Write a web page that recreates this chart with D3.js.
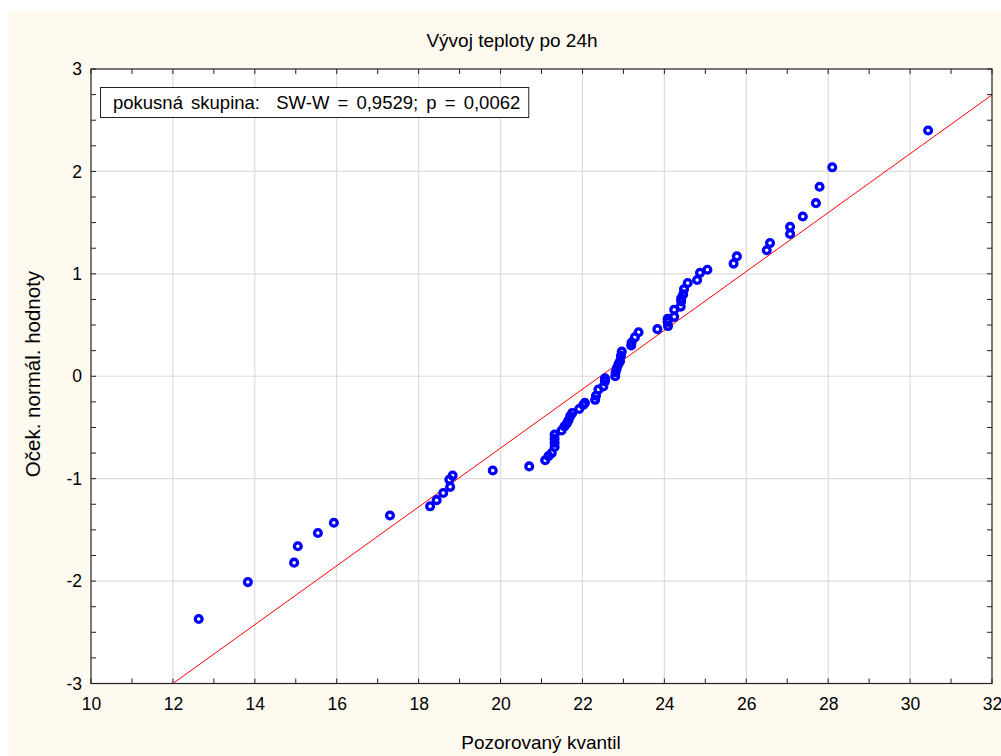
<!DOCTYPE html>
<html><head><meta charset="utf-8">
<script src="https://cdn.jsdelivr.net/npm/d3@7/dist/d3.min.js"></script>
<style>
body{margin:0;background:#fff;}
text{font-family:"Liberation Sans",Arial,sans-serif;fill:#000;}
</style>
</head><body>
<svg id="chart" width="1001" height="756"></svg>
<script>
// Observed quantiles (x) and expected normal values (y)
const observed = [12.63,13.83,14.96,15.05,15.54,15.93,17.30,18.28,18.44,18.60,
  18.77,18.75,18.83,19.81,20.70,21.09,21.17,21.25,21.32,21.32,
  21.32,21.32,21.49,21.56,21.62,21.66,21.70,21.75,21.92,22.02,
  22.06,22.31,22.33,22.39,22.51,22.55,22.55,22.80,22.81,22.84,
  22.88,22.92,22.94,22.96,23.19,23.20,23.28,23.37,23.83,24.09,
  24.08,24.08,24.24,24.24,24.40,24.41,24.41,24.46,24.48,24.57,
  24.80,24.87,25.05,25.69,25.77,26.50,26.58,27.07,27.07,27.38,
  27.70,27.79,28.10,30.44];
const expected = [-2.37,-2.01,-1.82,-1.66,-1.53,-1.43,-1.36,-1.27,-1.21,-1.14,
  -1.08,-1.01,-0.97,-0.92,-0.88,-0.82,-0.78,-0.75,-0.69,-0.65,
  -0.61,-0.57,-0.53,-0.49,-0.46,-0.43,-0.39,-0.36,-0.32,-0.28,
  -0.26,-0.23,-0.19,-0.13,-0.10,-0.05,-0.02,0.00,0.04,0.08,
  0.12,0.15,0.20,0.24,0.30,0.33,0.38,0.43,0.46,0.49,
  0.53,0.56,0.58,0.65,0.68,0.73,0.76,0.80,0.85,0.91,
  0.94,1.01,1.04,1.10,1.17,1.23,1.30,1.39,1.46,1.56,
  1.69,1.85,2.04,2.40];
const xTickValues = [10,12,14,16,18,20,22,24,26,28,30,32];
const yTickValues = [-3,-2,-1,0,1,2,3];
const fitMean = 22.44, fitSd = 3.48;
const titleText = "Vývoj teploty po 24h";
const xLabel = "Pozorovaný kvantil";
const yLabel = "Oček. normál. hodnoty";
const legendText = "pokusná skupina:  SW-W = 0,9529; p = 0,0062";

const svg = d3.select("#chart");
const W = 1001, H = 756;
const m = {left:91, right:992, top:69, bottom:683.5};

svg.append("rect").attr("x",0).attr("y",0).attr("width",W).attr("height",H).attr("fill","#ffffff");
svg.append("rect").attr("x",8).attr("y",11).attr("width",W-8).attr("height",H-11).attr("fill","#fffaf0");

const x = d3.scaleLinear().domain([10,32]).range([m.left,m.right]);
const y = d3.scaleLinear().domain([-3,3]).range([m.bottom,m.top]);

svg.append("defs").append("clipPath").attr("id","clip")
  .append("rect").attr("x",m.left).attr("y",m.top).attr("width",m.right-m.left).attr("height",m.bottom-m.top);

svg.append("rect").attr("x",m.left).attr("y",m.top).attr("width",m.right-m.left).attr("height",m.bottom-m.top).attr("fill","#ffffff");

// grid
const grid = svg.append("g").attr("stroke","#dcdcdc").attr("stroke-width",1.2);
xTickValues.slice(1,-1).forEach(v=>{
  grid.append("line").attr("x1",x(v)).attr("x2",x(v)).attr("y1",m.top).attr("y2",m.bottom);
});
yTickValues.slice(1,-1).forEach(v=>{
  grid.append("line").attr("x1",m.left).attr("x2",m.right).attr("y1",y(v)).attr("y2",y(v));
});

// axes
const minorX = d3.range(10,32.001,1);
const minorY = d3.range(-3,3.001,0.25);
const tickLen = 5;
const fmt = d => String(d);
const axB = svg.append("g").attr("transform",`translate(0,${m.bottom})`)
  .call(d3.axisBottom(x).tickValues(xTickValues).tickSize(0).tickPadding(14).tickFormat(fmt));
axB.select(".domain").remove();
axB.selectAll("text").attr("font-size",17.5).attr("font-family","Liberation Sans, Arial, sans-serif").attr("fill","#000");
const axL = svg.append("g").attr("transform",`translate(${m.left},0)`)
  .call(d3.axisLeft(y).tickValues(yTickValues).tickSize(0).tickPadding(9).tickFormat(fmt));
axL.select(".domain").remove();
axL.selectAll("text").attr("font-size",17.5).attr("font-family","Liberation Sans, Arial, sans-serif").attr("fill","#000");

const ticks = svg.append("g").attr("stroke","#222").attr("stroke-width",1);
minorX.forEach(v=>{
  ticks.append("line").attr("x1",x(v)).attr("x2",x(v)).attr("y1",m.bottom).attr("y2",m.bottom-tickLen);
  ticks.append("line").attr("x1",x(v)).attr("x2",x(v)).attr("y1",m.top).attr("y2",m.top+tickLen);
});
minorY.forEach(v=>{
  ticks.append("line").attr("x1",m.left).attr("x2",m.left+tickLen).attr("y1",y(v)).attr("y2",y(v));
  ticks.append("line").attr("x1",m.right).attr("x2",m.right-tickLen).attr("y1",y(v)).attr("y2",y(v));
});

// fitted line
const xs = x.domain();
svg.append("line").attr("clip-path","url(#clip)")
  .attr("x1",x(xs[0])).attr("y1",y((xs[0]-fitMean)/fitSd))
  .attr("x2",x(xs[1])).attr("y2",y((xs[1]-fitMean)/fitSd))
  .attr("stroke","#ff0000").attr("stroke-width",1);

// points
svg.append("g").selectAll("circle").data(observed).join("circle")
  .attr("cx",(d)=>x(d)).attr("cy",(d,i)=>y(expected[i]))
  .attr("r",3.4).attr("fill","none").attr("stroke","#0000ff").attr("stroke-width",3.3);

// frame
svg.append("rect").attr("x",m.left).attr("y",m.top).attr("width",m.right-m.left).attr("height",m.bottom-m.top)
  .attr("fill","none").attr("stroke","#222").attr("stroke-width",1.2);

// legend
const lg = svg.append("g");
const lt = lg.append("text").attr("x",113).attr("y",109).attr("font-size",18.5)
  .attr("word-spacing",3).style("white-space","pre").text(legendText);
const bb = lt.node().getBBox();
lg.insert("rect","text").attr("x",100.5).attr("y",87.5).attr("width",bb.width+21).attr("height",30)
  .attr("fill","#ffffff").attr("stroke","#222").attr("stroke-width",1);

// titles
svg.append("text").attr("x",512).attr("y",47).attr("text-anchor","middle").attr("font-size",19).text(titleText);
svg.append("text").attr("x",541).attr("y",749).attr("text-anchor","middle").attr("font-size",19).text(xLabel);
svg.append("text").attr("transform","translate(40,374) rotate(-90)").attr("text-anchor","middle").attr("font-size",20.5).text(yLabel);
</script>
</body></html>
